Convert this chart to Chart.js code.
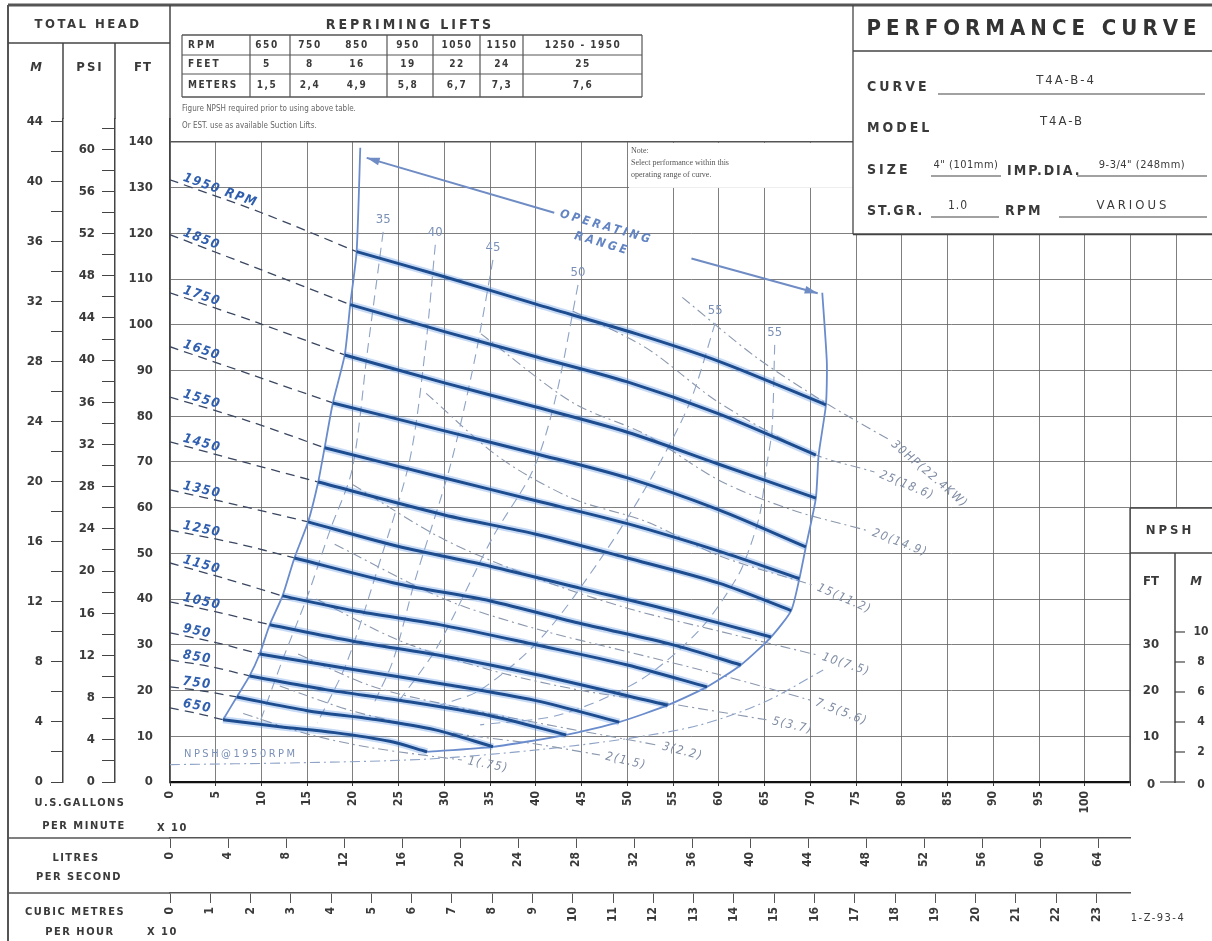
<!DOCTYPE html>
<html>
<head>
<meta charset="utf-8">
<script src="https://cdn.jsdelivr.net/npm/chart.js@4.4.1/dist/chart.umd.min.js"></script>
<style>
  html, body { margin: 0; padding: 0; background: #fff; }
  #wrap { width: 1212px; height: 941px; }
</style>
</head>
<body>
<div id="wrap"><canvas id="chart" width="1212" height="941"></canvas></div>
<script>
// x = U.S. gallons per minute x 10, y = total head in feet

let rpmLabels = ['1950 RPM', '1850', '1750', '1650', '1550', '1450', '1350', '1250', '1150', '1050', '950', '850', '750', '650'];

// dashed part of each curve, shut-off head to the edge of the operating range
let headDashed = [
  [[0, 131.7], [10, 124.5], [20.4, 116]],
  [[0, 119.7], [10, 112], [19.7, 104.4]],
  [[0, 107], [9.5, 100.5], [19.1, 93.4]],
  [[0, 95.2], [9, 89], [17.8, 82.9]],
  [[0, 84.2], [8.5, 79], [16.9, 73.1]],
  [[0, 74.4], [8, 70], [16.2, 65.6]],
  [[0, 63.9], [7.5, 60.5], [15.1, 56.9]],
  [[0, 55.1], [7, 52.3], [13.6, 49]],
  [[0, 47.9], [6, 44.5], [12.3, 40.7]],
  [[0, 39.4], [5.5, 37], [10.9, 34.4]],
  [[0, 32.6], [5, 30.5], [9.8, 28]],
  [[0, 26.7], [4.5, 25.2], [8.7, 23.2]],
  [[0, 20.8], [3.6, 19.9], [7.3, 18.6]],
  [[0, 16.2], [3, 15], [5.8, 13.6]]
];

// solid part, inside the operating range
let headSolid = [
  [[20.4, 116], [30, 110.5], [40, 104.5], [51, 98], [60, 92], [71.7, 82.5]],
  [[19.7, 104.4], [30, 98.5], [40, 93], [50, 87.5], [60, 80.5], [70.6, 71.5]],
  [[19.1, 93.4], [30, 87.3], [40, 82], [50, 76.5], [60, 69.5], [70.6, 62.1]],
  [[17.8, 82.9], [30, 76.8], [40, 71.8], [50, 66.5], [60, 59.5], [69.5, 51.4]],
  [[16.9, 73.1], [30, 66.5], [40, 61.5], [50, 56.5], [60, 50.5], [68.8, 44.5]],
  [[16.2, 65.6], [30, 58.4], [40, 54.2], [50, 49], [60, 43.5], [67.9, 37.5]],
  [[15.1, 56.9], [25, 51.5], [35, 47.2], [45, 42.3], [55, 37.4], [65.7, 31.7]],
  [[13.6, 49], [25, 43.3], [35, 39.6], [45, 34.6], [55, 30], [62.4, 25.6]],
  [[12.3, 40.7], [20, 37.5], [30, 34.2], [40, 30], [50, 25.6], [58.7, 20.8]],
  [[10.9, 34.4], [20, 30.8], [30, 27.5], [40, 23.5], [54.4, 16.8]],
  [[9.8, 28], [20, 24.6], [30, 21.4], [40, 17.8], [49.1, 13.1]],
  [[8.7, 23.2], [17, 20.2], [25, 17.9], [35, 14.5], [43.3, 10.3]],
  [[7.3, 18.6], [15, 15.6], [22, 13.8], [29, 11.4], [35.3, 7.7]],
  [[5.8, 13.6], [12, 12.1], [18, 10.8], [24, 8.9], [28.1, 6.6]]
];

let rangeLeft = [[20.8, 138.7], [20.4, 116], [19.7, 104.4], [19.1, 93.4], [17.8, 82.9], [16.9, 73.1], [16.2, 65.6], [15.1, 56.9], [13.6, 49], [12.3, 40.7], [10.9, 34.4], [9.8, 28], [8.7, 23.2], [7.3, 18.6], [5.8, 13.6]];
let rangeRight = [[71.3, 107], [71.8, 91.7], [71.7, 82.5], [70.9, 71.5], [70.6, 62.1], [69.5, 51.4], [68.8, 44.5], [67.9, 37.5], [65.7, 31.7], [62.4, 25.6], [58.7, 20.8], [54.4, 16.8], [49.1, 13.1], [43.3, 10.3], [35.3, 7.7], [28.1, 6.6]];
let arrowLeft = [[21.5, 136.5], [42, 124.5]];
let arrowRight = [[57, 114.5], [70.8, 106.9]];

// efficiency (%)
let effLabels = ['35', '40', '45', '50', '55', '55'];
let effLines = [
  [[23.3, 120.3], [21.6, 94.5], [19.9, 68.3], [17.5, 55.1], [15, 40.5], [12.3, 26.7], [9.8, 12.9]],
  [[29, 117.5], [27.9, 94.5], [26.2, 70.4], [23, 48.6], [19.3, 26], [16.1, 12.9]],
  [[35.3, 114.2], [33.3, 92.3], [30.6, 68.9], [26.8, 44.2], [24.4, 26.7], [22.2, 16.8]],
  [[44.6, 108.7], [42.1, 83.6], [39.7, 68.3], [35.3, 53.6], [29.2, 29.5], [25.1, 17.9]],
  [[59.6, 100.4], [56.8, 82.9], [52.5, 66.1], [47, 48.6], [40.4, 31.1], [33.9, 20.1], [29.5, 16.8]],
  [[66.1, 95.6], [65.8, 77], [65.2, 68.9], [64.5, 58.8], [63.4, 51.4], [62, 44.8], [57.9, 33.3], [51.4, 22.3], [42.6, 14.7], [33.9, 12.5]]
];

// brake horsepower (kW)
let hpLabels = ['30HP(22.4KW)', '25(18.6)', '20(14.9)', '15(11.2)', '10(7.5)', '7.5(5.6)', '5(3.7)', '3(2.2)', '2(1.5)', '1(.75)'];
let hpLines = [
  [[56, 106], [64, 93], [72, 82.5], [78.5, 75]],
  [[44, 103], [52, 95], [60, 83], [70, 72], [77, 67.8]],
  [[34, 98], [44, 83], [52, 76], [60, 66], [68, 59.5], [76.2, 55]],
  [[28, 85], [36, 71], [44, 62], [52, 57], [60, 49.5], [70.2, 43.1]],
  [[20, 65], [30, 53], [40, 44.6], [50, 38], [60, 33], [70.7, 27.8]],
  [[18, 52], [30, 40], [40, 33.5], [50, 28.5], [60, 23.5], [70, 17.9]],
  [[16, 40], [25, 31], [35, 24.5], [45, 20], [55, 17], [65.2, 13.6]],
  [[14, 28], [22, 21], [30, 17], [40, 13], [53.2, 8.1]],
  [[12, 21], [20, 15.5], [30, 11], [40, 8.3], [47, 5.9]],
  [[8, 15], [15, 10.5], [22, 7.5], [31.9, 4.8]]
];

let npshCurve = [[0, 3.8], [14, 4.2], [28, 5], [40, 7], [50, 9.5], [58, 12.5], [65, 17.5], [71.4, 24.5]];

// axis ticks
let ftTicks = [0, 10, 20, 30, 40, 50, 60, 70, 80, 90, 100, 110, 120, 130, 140];
let psiTicks = [0, 2, 4, 6, 8, 10, 12, 14, 16, 18, 20, 22, 24, 26, 28, 30, 32, 34, 36, 38, 40, 42, 44, 46, 48, 50, 52, 54, 56, 58, 60, 62];
let mTicks = [0, 2, 4, 6, 8, 10, 12, 14, 16, 18, 20, 22, 24, 26, 28, 30, 32, 34, 36, 38, 40, 42, 44];
let gpmTicks = [0, 5, 10, 15, 20, 25, 30, 35, 40, 45, 50, 55, 60, 65, 70, 75, 80, 85, 90, 95, 100, 105, 110];
let lpsTicks = [0, 4, 8, 12, 16, 20, 24, 28, 32, 36, 40, 44, 48, 52, 56, 60, 64];
let m3hTicks = [0, 1, 2, 3, 4, 5, 6, 7, 8, 9, 10, 11, 12, 13, 14, 15, 16, 17, 18, 19, 20, 21, 22, 23];
let npshFtTicks = [0, 10, 20, 30];
let npshMTicks = [0, 2, 4, 6, 8, 10];

// repriming lifts table
let reprimeRpm = ['650', '750', '850', '950', '1050', '1150', '1250 - 1950'];
let reprimeFeet = ['5', '8', '16', '19', '22', '24', '25'];
let reprimeMeters = ['1,5', '2,4', '4,9', '5,8', '6,7', '7,3', '7,6'];

let FT_PER_M = 3.2808;
let FT_PER_PSI = 2.3067;
let GPM_PER_LPS = 15.8503;
let GPM_PER_M3H = 4.40287;
let X_MAX = 113.9;
let Y_MAX = 145;

let FONT = "'Liberation Sans Narrow', 'DejaVu Sans Condensed', 'DejaVu Sans', sans-serif";
let GRID = 'rgba(105,105,105,0.85)';
let INK = '#3a3a3a';

let toPoints = function(pts) {
  return pts.map(function(p) { return {x: p[0], y: p[1]}; });
};

let lineSet = function(pts, color, width, dash, tension) {
  return {
    data: toPoints(pts),
    showLine: true,
    borderColor: color,
    borderWidth: width,
    borderDash: dash || [],
    pointRadius: 0,
    fill: false,
    tension: tension === undefined ? 0.3 : tension
  };
};

let datasets = [];
headSolid.forEach(function(pts) { datasets.push(lineSet(pts, '#1d4c8f', 3)); });
headSolid.forEach(function(pts) { datasets.push(lineSet(pts, 'rgba(95,150,225,0.35)', 7)); });
datasets.push(lineSet(rangeLeft, '#6a8ccc', 1.8, [], 0.2));
datasets.push(lineSet(rangeRight, '#6a8ccc', 1.8, [], 0.2));
datasets.push(lineSet(arrowLeft, '#6f8cc4', 2, [], 0));
datasets.push(lineSet(arrowRight, '#6f8cc4', 2, [], 0));
headDashed.forEach(function(pts) { datasets.push(lineSet(pts, '#3a4760', 1.3, [9, 6])); });
effLines.forEach(function(pts) { datasets.push(lineSet(pts, '#8ea3c6', 1.1, [10, 6])); });
hpLines.forEach(function(pts) { datasets.push(lineSet(pts, '#8b98ad', 1.1, [10, 4, 2, 4])); });
datasets.push(lineSet(npshCurve, '#8ea3c6', 1.1, [10, 4, 2, 4]));

let put = function(ctx, text, x, y, size, opts) {
  opts = opts || {};
  ctx.save();
  ctx.font = (opts.style || 'normal') + ' ' + (opts.weight || 'bold') + ' ' + size + 'px ' + (opts.family || FONT);
  ctx.fillStyle = opts.color || INK;
  ctx.textAlign = opts.align || 'left';
  ctx.textBaseline = 'middle';
  ctx.letterSpacing = (opts.spacing || 0) + 'px';
  ctx.translate(x, y);
  if (opts.angle) { ctx.rotate(opts.angle); }
  ctx.fillText(text, 0, 0);
  ctx.restore();
};

let rule = function(ctx, x1, y1, x2, y2, w, color) {
  ctx.save();
  ctx.strokeStyle = color || '#444';
  ctx.lineWidth = w || 1;
  ctx.beginPath();
  ctx.moveTo(x1, y1);
  ctx.lineTo(x2, y2);
  ctx.stroke();
  ctx.restore();
};

let whiteBox = function(ctx, x, y, w, h) {
  ctx.save();
  ctx.fillStyle = '#fff';
  ctx.fillRect(x, y, w, h);
  ctx.restore();
};

let arrowHead = function(ctx, tip, from, color) {
  let a = Math.atan2(tip[1] - from[1], tip[0] - from[0]);
  ctx.save();
  ctx.fillStyle = color;
  ctx.translate(tip[0], tip[1]);
  ctx.rotate(a);
  ctx.beginPath();
  ctx.moveTo(0, 0);
  ctx.lineTo(-13, -4);
  ctx.lineTo(-13, 4);
  ctx.closePath();
  ctx.fill();
  ctx.restore();
};

let overlayPlugin = {
  id: 'overlay',
  afterDraw: function(chart) {
    let ctx = chart.ctx;
    let xs = chart.scales.x;
    let ys = chart.scales.y;
    let px = function(p) { return [xs.getPixelForValue(p[0]), ys.getPixelForValue(p[1])]; };
    let top = ys.getPixelForValue(140);
    let bottom = ys.getPixelForValue(0);
    let boxBottom = ys.getPixelForValue(120) + 1;

    // panels that sit over the grid
    whiteBox(ctx, xs.left + 1, 0, 853 - xs.left - 1, top - 0.5);
    whiteBox(ctx, 853, 0, 1212 - 853, boxBottom);
    whiteBox(ctx, 629, top + 1, 853 - 629, 45);
    whiteBox(ctx, 1131, 508, 1212 - 1131, 941 - 508);

    // curve labels
    headDashed.forEach(function(pts, i) {
      let a = px(pts[0]), b = px(pts[1]);
      let ang = Math.atan2(b[1] - a[1], b[0] - a[0]);
      ctx.save();
      ctx.translate(a[0], a[1]);
      ctx.rotate(ang);
      put(ctx, rpmLabels[i], 12, -7, 13, {style: 'italic', color: '#2f5fae', spacing: 1.5});
      ctx.restore();
    });

    effLines.forEach(function(pts, i) {
      let a = px(pts[0]);
      put(ctx, effLabels[i], a[0], a[1] - 12, 13, {weight: 'normal', color: '#7b90b6', align: 'center'});
    });

    hpLines.forEach(function(pts, i) {
      let a = px(pts[pts.length - 2]), b = px(pts[pts.length - 1]);
      let ang = Math.atan2(b[1] - a[1], b[0] - a[0]) * 1.35;
      ctx.save();
      ctx.translate(b[0], b[1]);
      ctx.rotate(ang);
      put(ctx, hpLabels[i], 6, 0, 12, {style: 'italic', weight: 'normal', color: '#7f8ca3', spacing: 1.5});
      ctx.restore();
    });

    let n0 = px(npshCurve[0]);
    put(ctx, 'NPSH@1950RPM', n0[0] + 14, n0[1] - 10, 11, {weight: 'normal', color: '#7b90b6', spacing: 2.5});

    // operating range arrows and text
    let al0 = px(arrowLeft[0]), al1 = px(arrowLeft[1]);
    let ar0 = px(arrowRight[0]), ar1 = px(arrowRight[1]);
    arrowHead(ctx, al0, al1, '#6f8cc4');
    arrowHead(ctx, ar1, ar0, '#6f8cc4');
    let oa = Math.atan2(al1[1] - al0[1], al1[0] - al0[0]);
    ctx.save();
    ctx.translate(al1[0] + 6, al1[1] + 1);
    ctx.rotate(oa);
    put(ctx, 'OPERATING', 0, 0, 12, {style: 'italic', color: '#6384c2', spacing: 3});
    put(ctx, 'RANGE', 20, 17, 12, {style: 'italic', color: '#6384c2', spacing: 3});
    ctx.restore();

    // outer frame
    rule(ctx, 8, 5, 1212, 5, 3, '#555');
    rule(ctx, 8, 5, 8, 941, 2, '#555');
    rule(ctx, 8, 43, xs.left, 43, 1.3);
    rule(ctx, 63, 43, 63, ys.top, 1.5, '#444');
    rule(ctx, 115, 43, 115, ys.top, 1.5, '#444');
    rule(ctx, xs.left, 5, xs.left, ys.top, 1.5, '#444');
    rule(ctx, xs.left, top, 853, top, 1.5, '#555');
    rule(ctx, 853, 5, 853, boxBottom, 1.3);
    rule(ctx, 853, 51, 1212, 51, 1.3);
    rule(ctx, 853, boxBottom, 1212, boxBottom, 2, '#444');
    rule(ctx, 8, 838, xs.left, 838, 1.5, '#555');
    rule(ctx, 8, 893, xs.left, 893, 1.5, '#555');

    // left header
    put(ctx, 'TOTAL HEAD', 88, 25, 13, {align: 'center', spacing: 2.5});
    put(ctx, 'M', 36, 68, 13, {align: 'center', style: 'italic'});
    put(ctx, 'PSI', 90, 68, 13, {align: 'center', spacing: 2});
    put(ctx, 'FT', 143, 68, 13, {align: 'center', spacing: 1});

    // repriming lifts
    put(ctx, 'REPRIMING LIFTS', 410, 25, 14, {align: 'center', spacing: 3});
    let cols = [182, 250, 290, 387, 433, 480, 523, 642];
    let centres = [267, 310, 357, 408, 457, 502, 583];
    let rows = [35, 55, 74, 97];
    rows.forEach(function(r) { rule(ctx, 182, r, 642, r, r === 97 || r === 35 ? 1.6 : 1, '#555'); });
    cols.forEach(function(c) { rule(ctx, c, 35, c, 97, 1.2, '#555'); });
    put(ctx, 'RPM', 188, 45, 10, {spacing: 2});
    put(ctx, 'FEET', 188, 64.5, 10, {spacing: 2});
    put(ctx, 'METERS', 188, 85.5, 10, {spacing: 1.5});
    reprimeRpm.forEach(function(t, i) { put(ctx, t, centres[i], 45, 10, {align: 'center', spacing: 1.5}); });
    reprimeFeet.forEach(function(t, i) { put(ctx, t, centres[i], 64.5, 10, {align: 'center', spacing: 1.5}); });
    reprimeMeters.forEach(function(t, i) { put(ctx, t, centres[i], 85.5, 10, {align: 'center', spacing: 1.5}); });
    put(ctx, 'Figure NPSH required prior to using above table.', 182, 109, 8, {weight: 'normal', color: '#666'});
    put(ctx, 'Or EST. use as available Suction Lifts.', 182, 126, 8, {weight: 'normal', color: '#666'});

    // note
    let serif = "'Liberation Serif', 'DejaVu Serif', serif";
    put(ctx, 'Note:', 631, 151, 8, {weight: 'normal', family: serif, color: '#555'});
    put(ctx, 'Select performance within this', 631, 163, 8, {weight: 'normal', family: serif, color: '#555'});
    put(ctx, 'operating range of curve.', 631, 175, 8, {weight: 'normal', family: serif, color: '#555'});

    // performance curve box
    put(ctx, 'PERFORMANCE CURVE', 1034, 29, 22, {align: 'center', spacing: 5, color: '#333'});
    put(ctx, 'CURVE', 867, 87, 14, {spacing: 3});
    rule(ctx, 938, 94, 1205, 94, 1.2);
    put(ctx, 'T4A-B-4', 1066, 81, 13, {align: 'center', spacing: 2, weight: 'normal'});
    put(ctx, 'MODEL', 867, 128, 14, {spacing: 3});
    put(ctx, 'T4A-B', 1062, 122, 13, {align: 'center', spacing: 2, weight: 'normal'});
    put(ctx, 'SIZE', 867, 170, 14, {spacing: 3});
    rule(ctx, 931, 176, 1001, 176, 1.2);
    put(ctx, '4" (101mm)', 966, 165, 11, {align: 'center', weight: 'normal', spacing: 0.5});
    put(ctx, 'IMP.DIA.', 1007, 171, 14, {spacing: 2});
    rule(ctx, 1077, 176, 1207, 176, 1.2);
    put(ctx, '9-3/4" (248mm)', 1142, 165, 11, {align: 'center', weight: 'normal', spacing: 0.5});
    put(ctx, 'ST.GR.', 867, 211, 14, {spacing: 2});
    rule(ctx, 931, 217, 999, 217, 1.2);
    put(ctx, '1.0', 958, 206, 12, {align: 'center', weight: 'normal', spacing: 1});
    put(ctx, 'RPM', 1005, 211, 14, {spacing: 2});
    rule(ctx, 1059, 217, 1207, 217, 1.2);
    put(ctx, 'VARIOUS', 1133, 206, 13, {align: 'center', weight: 'normal', spacing: 3});

    // NPSH scale, same feet as the head scale
    rule(ctx, 1130, 508, 1212, 508, 1.3);
    rule(ctx, 1130, 553, 1212, 553, 1.3);
    rule(ctx, 1130, 508, 1130, bottom + 1, 1.3);
    rule(ctx, 1175, 553, 1175, bottom + 1, 1.5);
    put(ctx, 'NPSH', 1170, 531, 13, {align: 'center', spacing: 3});
    put(ctx, 'FT', 1151, 582, 13, {align: 'center'});
    put(ctx, 'M', 1196, 582, 13, {align: 'center', style: 'italic'});
    npshFtTicks.forEach(function(v) {
      put(ctx, String(v), 1151, ys.getPixelForValue(v) + (v === 0 ? 3 : 0), 13, {align: 'center'});
    });
    npshMTicks.forEach(function(v) {
      let y = ys.getPixelForValue(v * FT_PER_M);
      rule(ctx, 1175, y, 1185, y, 1.2);
      put(ctx, String(v), 1201, y + (v === 0 ? 3 : 0), 12, {align: 'center'});
    });
    rule(ctx, 1160, bottom, 1175, bottom, 1.2);

    // flow scale captions
    put(ctx, 'U.S.GALLONS', 80, 803, 11, {align: 'center', spacing: 1.5});
    put(ctx, 'PER MINUTE', 84, 826, 11, {align: 'center', spacing: 1.5});
    put(ctx, 'X 10', 157, 828, 11, {spacing: 1.5});
    put(ctx, 'LITRES', 76, 858, 11, {align: 'center', spacing: 1.5});
    put(ctx, 'PER SECOND', 79, 877, 11, {align: 'center', spacing: 1.5});
    put(ctx, 'CUBIC METRES', 75, 912, 11, {align: 'center', spacing: 1.5});
    put(ctx, 'PER HOUR', 80, 932, 11, {align: 'center', spacing: 1.5});
    put(ctx, 'X 10', 147, 932, 11, {spacing: 1.5});
    put(ctx, '1-Z-93-4', 1158, 918, 11, {align: 'center', spacing: 1.5, weight: 'normal'});
  }
};

let tickFont = {family: FONT, size: 12, weight: 'bold'};

let setTicks = function(list) {
  return function(scale) {
    scale.ticks = list.map(function(v) { return {value: v}; });
  };
};

let chart = new Chart(document.getElementById('chart'), {
  type: 'scatter',
  data: {datasets: datasets},
  plugins: [overlayPlugin],
  options: {
    responsive: false,
    animation: false,
    devicePixelRatio: 1,
    layout: {padding: {left: 8, top: 119, right: 0, bottom: 0}},
    plugins: {legend: {display: false}, tooltip: {enabled: false}},
    scales: {
      x: {
        type: 'linear', position: 'bottom', weight: 0, min: 0, max: X_MAX,
        afterBuildTicks: setTicks(gpmTicks),
        afterFit: function(s) { s.height = 56; },
        grid: {color: GRID, lineWidth: 1, tickLength: 4, tickColor: '#333'},
        border: {color: '#111', width: 2.2},
        ticks: {
          autoSkip: false, minRotation: 90, maxRotation: 90, padding: 5,
          font: tickFont, color: INK,
          callback: function(v) { return v <= 100 ? v : ''; }
        }
      },
      lps: {
        type: 'linear', position: 'bottom', weight: 1, min: 0, max: X_MAX * 10 / GPM_PER_LPS,
        afterBuildTicks: setTicks(lpsTicks),
        afterFit: function(s) { s.height = 55; },
        grid: {drawOnChartArea: false, tickLength: 10, color: '#555'},
        border: {color: '#555', width: 1.5},
        ticks: {autoSkip: false, minRotation: 90, maxRotation: 90, padding: 4, font: tickFont, color: INK}
      },
      m3h: {
        type: 'linear', position: 'bottom', weight: 2, min: 0, max: X_MAX / GPM_PER_M3H,
        afterBuildTicks: setTicks(m3hTicks),
        afterFit: function(s) { s.height = 48; },
        grid: {drawOnChartArea: false, tickLength: 10, color: '#555'},
        border: {color: '#555', width: 1.5},
        ticks: {autoSkip: false, minRotation: 90, maxRotation: 90, padding: 4, font: tickFont, color: INK}
      },
      y: {
        type: 'linear', position: 'left', weight: 0, min: 0, max: Y_MAX,
        afterBuildTicks: setTicks(ftTicks),
        afterFit: function(s) { s.width = 55; },
        grid: {color: GRID, lineWidth: 1, drawTicks: false},
        border: {color: '#444', width: 1.5},
        ticks: {autoSkip: false, padding: 17, font: {family: FONT, size: 13, weight: 'bold'}, color: INK}
      },
      psi: {
        type: 'linear', position: 'left', weight: 1, min: 0, max: Y_MAX / FT_PER_PSI,
        afterBuildTicks: setTicks(psiTicks),
        afterFit: function(s) { s.width = 52; },
        grid: {drawOnChartArea: false, tickLength: 13, color: '#444'},
        border: {color: '#444', width: 1.5},
        ticks: {
          autoSkip: false, padding: 7, font: {family: FONT, size: 13, weight: 'bold'}, color: INK,
          callback: function(v) { return v % 4 === 0 ? v : ''; }
        }
      },
      m: {
        type: 'linear', position: 'left', weight: 2, min: 0, max: Y_MAX / FT_PER_M,
        afterBuildTicks: setTicks(mTicks),
        afterFit: function(s) { s.width = 55; },
        grid: {drawOnChartArea: false, tickLength: 12, color: '#444'},
        border: {color: '#444', width: 1.5},
        ticks: {
          autoSkip: false, padding: 8, font: {family: FONT, size: 13, weight: 'bold'}, color: INK,
          callback: function(v) { return v % 4 === 0 ? v : ''; }
        }
      }
    }
  }
});
</script>
</body>
</html>
